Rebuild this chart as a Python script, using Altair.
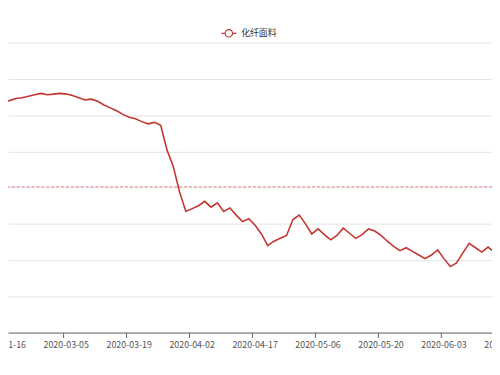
import altair as alt
import pandas as pd

# trading days, first entry sits just left of the visible window
dates = [
    "2020-01-15", "2020-01-16", "2020-01-17", "2020-01-20", "2020-01-21", "2020-01-22",
    "2020-01-23", "2020-02-28", "2020-03-02", "2020-03-03", "2020-03-04",
    "2020-03-05", "2020-03-06", "2020-03-09", "2020-03-10", "2020-03-11", "2020-03-12",
    "2020-03-13", "2020-03-16", "2020-03-17", "2020-03-18", "2020-03-19", "2020-03-20",
    "2020-03-23", "2020-03-24", "2020-03-25", "2020-03-26", "2020-03-27", "2020-03-30",
    "2020-03-31", "2020-04-01", "2020-04-02", "2020-04-03", "2020-04-07", "2020-04-08",
    "2020-04-09", "2020-04-10", "2020-04-13", "2020-04-14", "2020-04-15", "2020-04-16",
    "2020-04-17", "2020-04-20", "2020-04-21", "2020-04-22", "2020-04-23", "2020-04-24",
    "2020-04-27", "2020-04-28", "2020-04-29", "2020-04-30", "2020-05-06", "2020-05-07",
    "2020-05-08", "2020-05-11", "2020-05-12", "2020-05-13", "2020-05-14", "2020-05-15",
    "2020-05-18", "2020-05-19", "2020-05-20", "2020-05-21", "2020-05-22", "2020-05-25",
    "2020-05-26", "2020-05-27", "2020-05-28", "2020-05-29", "2020-06-01", "2020-06-02",
    "2020-06-03", "2020-06-04", "2020-06-05", "2020-06-08", "2020-06-09", "2020-06-10",
    "2020-06-11", "2020-06-12", "2020-06-15",
]
values = [
    112.1, 111.9, 112.0, 112.3, 112.4, 112.6, 112.8, 113.0, 112.8, 112.9,
    113.0, 112.9, 112.7, 112.4, 112.1, 112.2, 111.9, 111.4, 111.0, 110.6,
    110.1, 109.7, 109.5, 109.1, 108.8, 109.0, 108.6, 105.2, 102.9, 99.4,
    96.7, 97.1, 97.5, 98.1, 97.3, 97.9, 96.7, 97.2, 96.2, 95.3,
    95.7, 94.8, 93.6, 92.0, 92.6, 93.0, 93.4, 95.6, 96.2, 95.0,
    93.6, 94.3, 93.5, 92.8, 93.4, 94.4, 93.7, 93.0, 93.5, 94.3,
    94.0, 93.4, 92.6, 91.9, 91.3, 91.7, 91.2, 90.7, 90.2, 90.7,
    91.4, 90.2, 89.1, 89.6, 91.0, 92.3, 91.7, 91.1, 91.8, 91.1,
]
tick_labels = [
    "2020-01-16", "2020-03-05", "2020-03-19", "2020-04-02", "2020-04-17",
    "2020-05-06", "2020-05-20", "2020-06-03", "2020-06-17",
]
series_name = "化纤面料"
avg_value = 100.1
y_grid = [80, 85, 90, 95, 100, 105, 110, 115, 120]

W = 492
H = 294.7
STEP = 6.4
x0 = 0.75
x1 = x0 + W / STEP

df = pd.DataFrame({
    "idx": list(range(-1, len(values) - 1)),
    "date": dates,
    "value": values,
    "series": [series_name] * len(values),
})
lab_df = pd.DataFrame({
    "idx": [10 * i for i in range(len(tick_labels))],
    "label": tick_labels,
})
tick_vals = [10 * i - 0.5 for i in range(len(tick_labels)) if x0 < 10 * i - 0.5 < x1]

font = "Noto Sans CJK SC"
red = "#c23531"
xscale = alt.Scale(domain=[x0, x1], nice=False, zero=False)
yscale = alt.Scale(domain=[80, 120], nice=False, zero=False)

x_axis = alt.Axis(values=tick_vals, labels=False, grid=False, title=None,
                  domainColor="#666", tickColor="#666", tickSize=5, domainWidth=1)
y_axis = alt.Axis(values=y_grid, labels=False, ticks=False, domain=False,
                  grid=True, gridColor="#e3e3e3", title=None)

line = alt.Chart(df).mark_line(strokeWidth=1.6, clip=True).encode(
    x=alt.X("idx:Q", scale=xscale, axis=x_axis),
    y=alt.Y("value:Q", scale=yscale, axis=y_axis),
    color=alt.Color("series:N", scale=alt.Scale(range=[red]),
                    legend=alt.Legend(
                        title=None, orient="none", legendX=216, legendY=-18,
                        symbolType="M-1,0L-0.5,0M0.5,0L1,0M-0.5,0A0.5,0.5,0,1,1,0.5,0A0.5,0.5,0,1,1,-0.5,0",
                        symbolSize=225, symbolStrokeWidth=1.2, symbolFillColor="#ffffff",
                        symbolStrokeColor="#d06a66", labelFontSize=9, labelColor="#333",
                        labelFont=font, padding=0, labelOffset=4)),
)

avg_rule = alt.Chart(pd.DataFrame({"avg": [avg_value]})).mark_rule(
    color=red, strokeDash=[3, 2], strokeWidth=1, opacity=0.6
).encode(y=alt.Y("avg:Q", scale=yscale, axis=y_axis))

labels = alt.Chart(lab_df).mark_text(
    fontSize=9, font=font, color="#555", baseline="middle", align="center", clip=False
).encode(
    x=alt.X("idx:Q", scale=xscale, axis=x_axis),
    y=alt.value(H + 13),
    text="label:N",
)

chart = alt.layer(line, avg_rule, labels).properties(
    width=W, height=H,
    padding={"left": 0, "top": 32.3, "right": 0, "bottom": 25},
    autosize=alt.AutoSizeParams(type="none"),
).configure_view(stroke=None)

chart.save("out.html", embed_options={"renderer": "svg", "actions": False})
